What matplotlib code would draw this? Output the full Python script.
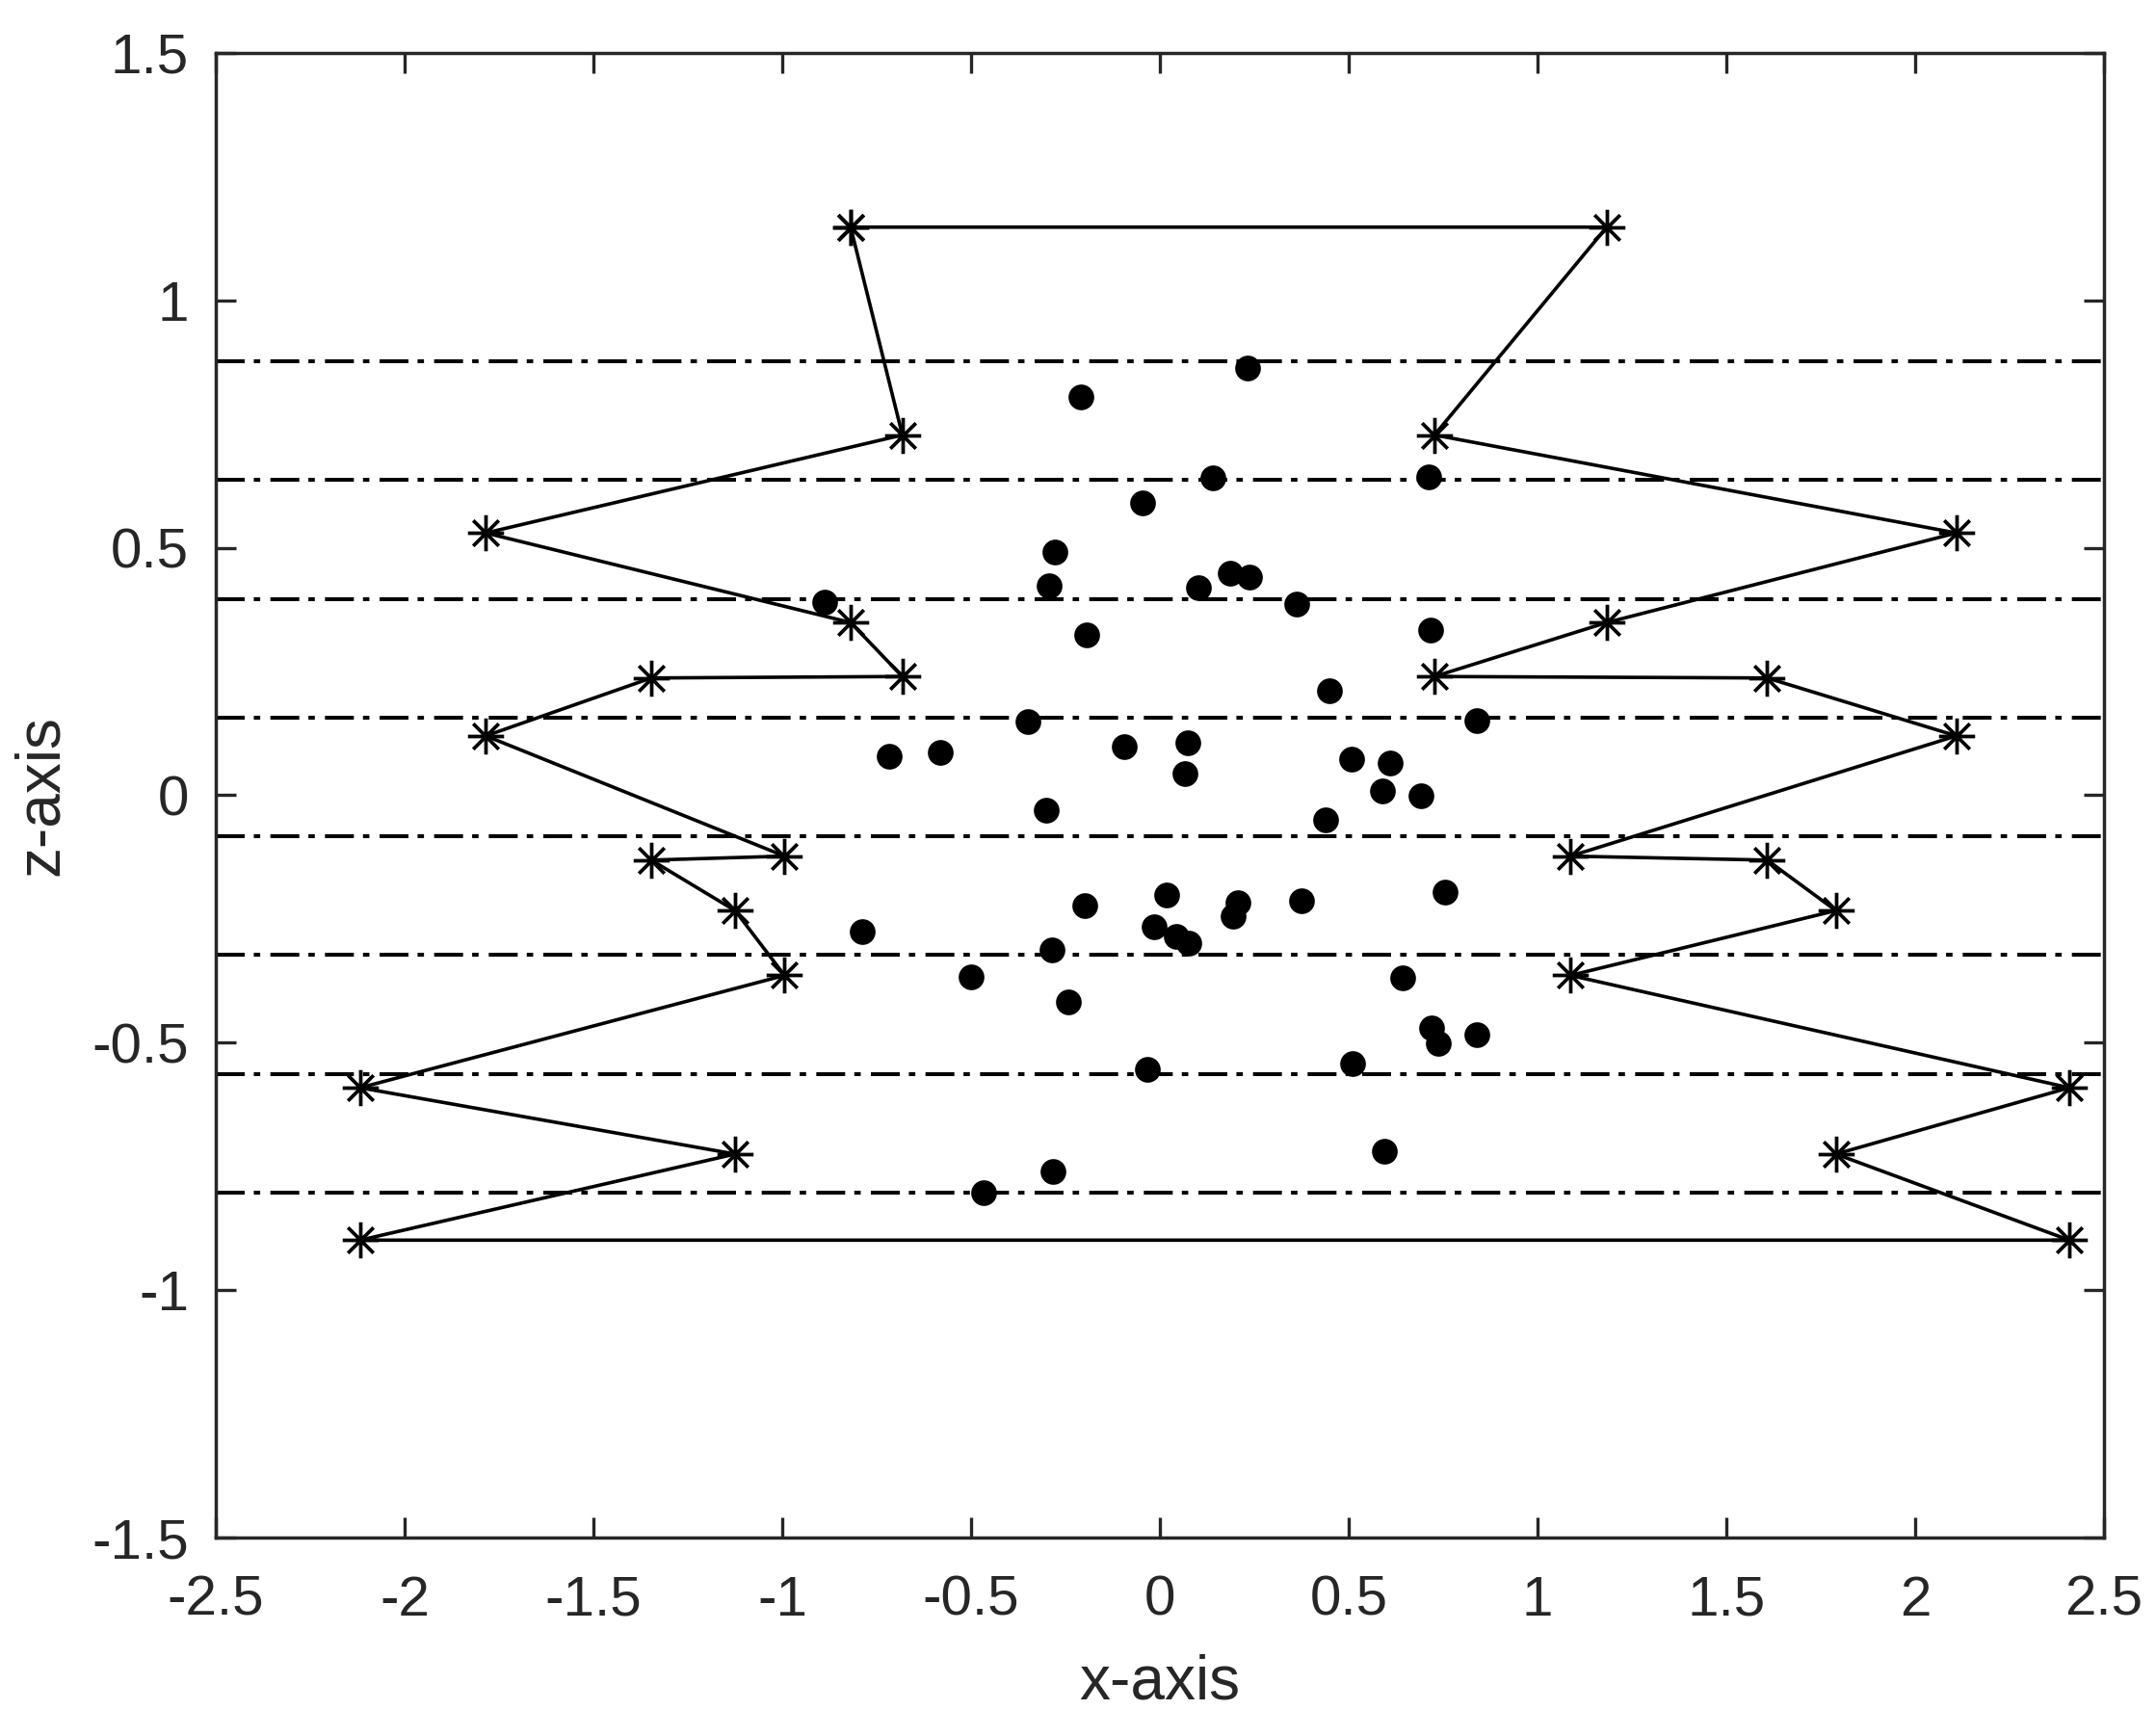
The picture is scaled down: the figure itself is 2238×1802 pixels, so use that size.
import numpy as np
import matplotlib
matplotlib.use("Agg")
import matplotlib.pyplot as plt
from matplotlib.path import Path

plt.rcParams['font.family'] = ['Liberation Sans', 'DejaVu Sans']
plt.rcParams['lines.scale_dashes'] = False

# boundary polygon (asterisk markers), in drawing order, closed at the end
poly_x = [-0.819, -0.682, -1.785, -0.819, -0.682, -1.347, -1.785, -0.994, -1.347, -1.125,
          -0.994, -2.118, -1.125, -2.118,
          2.408, 1.790, 2.408, 1.087, 1.790, 1.608, 1.087, 2.109, 1.608, 0.727,
          1.183, 2.109, 0.727, 1.183, -0.819]
poly_z = [1.148, 0.728, 0.530, 0.349, 0.240, 0.237, 0.120, -0.123, -0.131, -0.233,
          -0.364, -0.591, -0.725, -0.899,
          -0.899, -0.725, -0.591, -0.364, -0.233, -0.131, -0.123, 0.120, 0.237, 0.240,
          0.349, 0.530, 0.728, 1.148, 1.148]

# scattered points
pts_x = [0.232, -0.209, 0.140, 0.712, -0.046, -0.279, -0.294, 0.185, 0.236, 0.102,
         0.362, -0.888, -0.195, 0.716, 0.448, -0.349, 0.838, -0.717, -0.581, -0.095,
         0.074, 0.067, 0.508, 0.609, 0.589, 0.690, -0.302, 0.439, -0.789, -0.198,
         0.017, 0.207, 0.193, 0.374, 0.756, -0.015, 0.043, 0.077, -0.285, -0.500,
         0.643, -0.242, 0.720, 0.737, 0.838, 0.510, -0.032, 0.594, -0.284, -0.467]
pts_z = [0.863, 0.804, 0.642, 0.643, 0.591, 0.492, 0.424, 0.449, 0.440, 0.420,
         0.387, 0.390, 0.324, 0.334, 0.211, 0.149, 0.151, 0.078, 0.087, 0.098,
         0.106, 0.044, 0.073, 0.065, 0.008, -0.001, -0.030, -0.049, -0.275, -0.222,
         -0.201, -0.217, -0.245, -0.213, -0.195, -0.265, -0.285, -0.298, -0.313, -0.366,
         -0.368, -0.417, -0.470, -0.501, -0.483, -0.543, -0.553, -0.720, -0.760, -0.803]

# horizontal dash-dot levels
levels = [0.877, 0.637, 0.397, 0.157, -0.083, -0.323, -0.563, -0.803]

xticks = [-2.5, -2, -1.5, -1, -0.5, 0, 0.5, 1, 1.5, 2, 2.5]
yticks = [-1.5, -1, -0.5, 0, 0.5, 1, 1.5]

# matlab style '*' marker: plus and cross with equal arms
c = np.sqrt(0.5) * 0.5
star = Path([(-0.5, 0), (0.5, 0), (0, -0.5), (0, 0.5), (-c, -c), (c, c), (-c, c), (c, -c)],
            [Path.MOVETO, Path.LINETO] * 4)

fig = plt.figure(figsize=(11.19, 9.01), dpi=200)
ax = fig.add_axes([0.1001, 0.1143, 0.8758, 0.8552])

for lv in levels:
    ax.axhline(lv, color='black', lw=1.45, linestyle=(0, (10.8, 3.4, 2.4, 3.8)),
               dash_capstyle='butt', zorder=1)

ax.plot(poly_x, poly_z, color='black', lw=1.3, marker=star, markersize=13.5,
        markeredgewidth=1.35, markerfacecolor='none', zorder=2)
ax.plot(pts_x, pts_z, 'o', color='black', markersize=9, markeredgewidth=0.6, zorder=3)

ax.set_xlim(-2.5, 2.5)
ax.set_ylim(-1.5, 1.5)
ax.set_xticks(xticks)
ax.set_yticks(yticks)
ax.set_xticklabels([f"{t:g}" for t in xticks])
ax.set_yticklabels([f"{t:g}" for t in yticks])

gray = '#262626'
for s in ax.spines.values():
    s.set_color(gray)
    s.set_linewidth(1.25)
ax.tick_params(direction='in', length=7.6, width=1.2, color=gray, labelcolor=gray,
               labelsize=21, top=True, right=True)
ax.tick_params(axis='x', pad=14)
ax.tick_params(axis='y', pad=10)

ax.set_xlabel('x-axis', fontsize=23, color=gray, labelpad=10)
ax.set_ylabel('z-axis', fontsize=23, color=gray, labelpad=8)

fig.savefig('out.png', dpi=200)
